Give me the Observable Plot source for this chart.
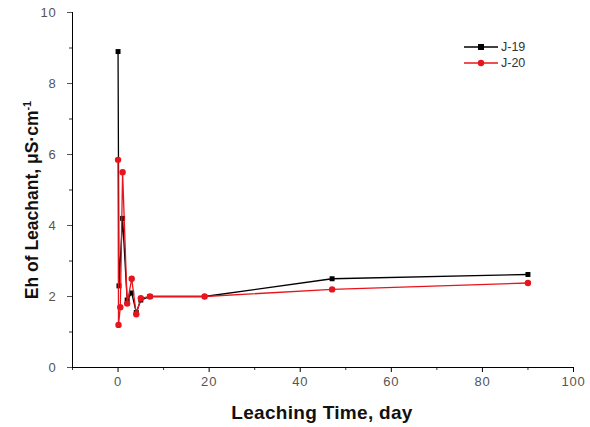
<!DOCTYPE html>
<html><head><meta charset="utf-8">
<script src="https://cdn.jsdelivr.net/npm/d3@7"></script>
<script src="https://cdn.jsdelivr.net/npm/@observablehq/plot@0.6"></script>
<style>
body{margin:0;background:#fff;font-family:Arial,"Liberation Sans",sans-serif;}
#wrap{position:relative;width:590px;height:427px;}
#legend{position:absolute;left:464px;top:39px;font-size:12.5px;color:#333;line-height:16px;}
#legend div{display:flex;align-items:center;height:16px;}
#legend svg{margin-right:3px;}
</style></head>
<body><div id="wrap"><div id="legend"></div></div>
<script>
const seriesNames = ["J-19", "J-20"];
const j19Time = [0, 0.2, 1, 2, 3, 4, 5, 7, 19, 47, 90];
const j19Eh   = [8.9, 2.3, 4.2, 1.9, 2.1, 1.55, 1.9, 2.0, 2.0, 2.5, 2.62];
const j20Time = [0, 0.1, 0.5, 1, 2, 3, 4, 5, 7, 19, 47, 90];
const j20Eh   = [5.85, 1.2, 1.7, 5.5, 1.8, 2.5, 1.5, 1.95, 2.0, 2.0, 2.2, 2.38];
const xMajor = [0, 20, 40, 60, 80, 100];
const xMinor = [-10, 10, 30, 50, 70, 90];
const yMajor = [0, 2, 4, 6, 8, 10];
const yMinor = [1, 3, 5, 7, 9];
const colors = ["#000000", "#e8141c"];

const j19 = j19Time.map((t, i) => ({t, v: j19Eh[i], s: seriesNames[0]}));
const j20 = j20Time.map((t, i) => ({t, v: j20Eh[i], s: seriesNames[1]}));

const chart = Plot.plot({
  width: 590, height: 427,
  marginLeft: 72, marginRight: 17, marginTop: 12, marginBottom: 60,
  style: {fontFamily: "Arial, 'Liberation Sans', sans-serif", fontSize: "13px", color: "#333", letterSpacing: "0.8px"},
  x: {domain: [-10, 100]},
  y: {domain: [0, 10]},
  marks: [
    Plot.axisX({ticks: xMajor, tickSize: 5, tickPadding: 4, fontSize: 13, label: null, stroke: "#000", color: "#555"}),
    Plot.axisX({ticks: xMinor, tickSize: 3, tickFormat: () => "", label: null}),
    Plot.axisY({ticks: yMajor, tickSize: 5, tickPadding: 11, fontSize: 13, label: null, color: "#555"}),
    Plot.axisY({ticks: yMinor, tickSize: 3, tickFormat: () => "", label: null}),
    Plot.ruleY([0], {stroke: "#000", strokeWidth: 1}),
    Plot.ruleX([-10], {stroke: "#000", strokeWidth: 1}),
    Plot.line(j19, {x: "t", y: "v", stroke: colors[0], strokeWidth: 1.3}),
    Plot.dot(j19, {x: "t", y: "v", symbol: "square", fill: colors[0], r: 2.8}),
    Plot.line(j20, {x: "t", y: "v", stroke: colors[1], strokeWidth: 1.3}),
    Plot.dot(j20, {x: "t", y: "v", symbol: "circle", fill: colors[1], r: 3.2})
  ]
});
chart.style.position = "absolute";
chart.style.left = "0"; chart.style.top = "0";
const wrap = document.getElementById("wrap");
wrap.insertBefore(chart, wrap.firstChild);

// axis titles
const ns = "http://www.w3.org/2000/svg";
const xl = document.createElementNS(ns, "text");
xl.setAttribute("x", 322); xl.setAttribute("y", 419);
xl.setAttribute("text-anchor", "middle");
xl.setAttribute("font-size", "19"); xl.setAttribute("font-weight", "bold");
xl.setAttribute("letter-spacing", "0.3");
xl.setAttribute("fill", "#111");
xl.textContent = "Leaching Time, day";
chart.appendChild(xl);
const yl = document.createElementNS(ns, "text");
yl.setAttribute("transform", "translate(38,200) rotate(-90)");
yl.setAttribute("text-anchor", "middle");
yl.setAttribute("font-size", "17.5"); yl.setAttribute("font-weight", "bold");
yl.setAttribute("letter-spacing", "0");
yl.setAttribute("fill", "#111");
yl.innerHTML = 'Eh of Leachant, μS·cm<tspan dy="-7" font-size="11">-1</tspan>';
chart.appendChild(yl);

// legend
const leg = document.getElementById("legend");
seriesNames.forEach((n, i) => {
  const row = document.createElement("div");
  const mark = i === 0
    ? `<rect x="14" y="4" width="6" height="6" fill="${colors[i]}"/>`
    : `<circle cx="17" cy="7" r="3.2" fill="${colors[i]}"/>`;
  row.innerHTML = `<svg width="34" height="14"><line x1="0" x2="34" y1="7" y2="7" stroke="${colors[i]}" stroke-width="1.3"/>${mark}</svg><span>${n}</span>`;
  leg.appendChild(row);
});
</script></body></html>
